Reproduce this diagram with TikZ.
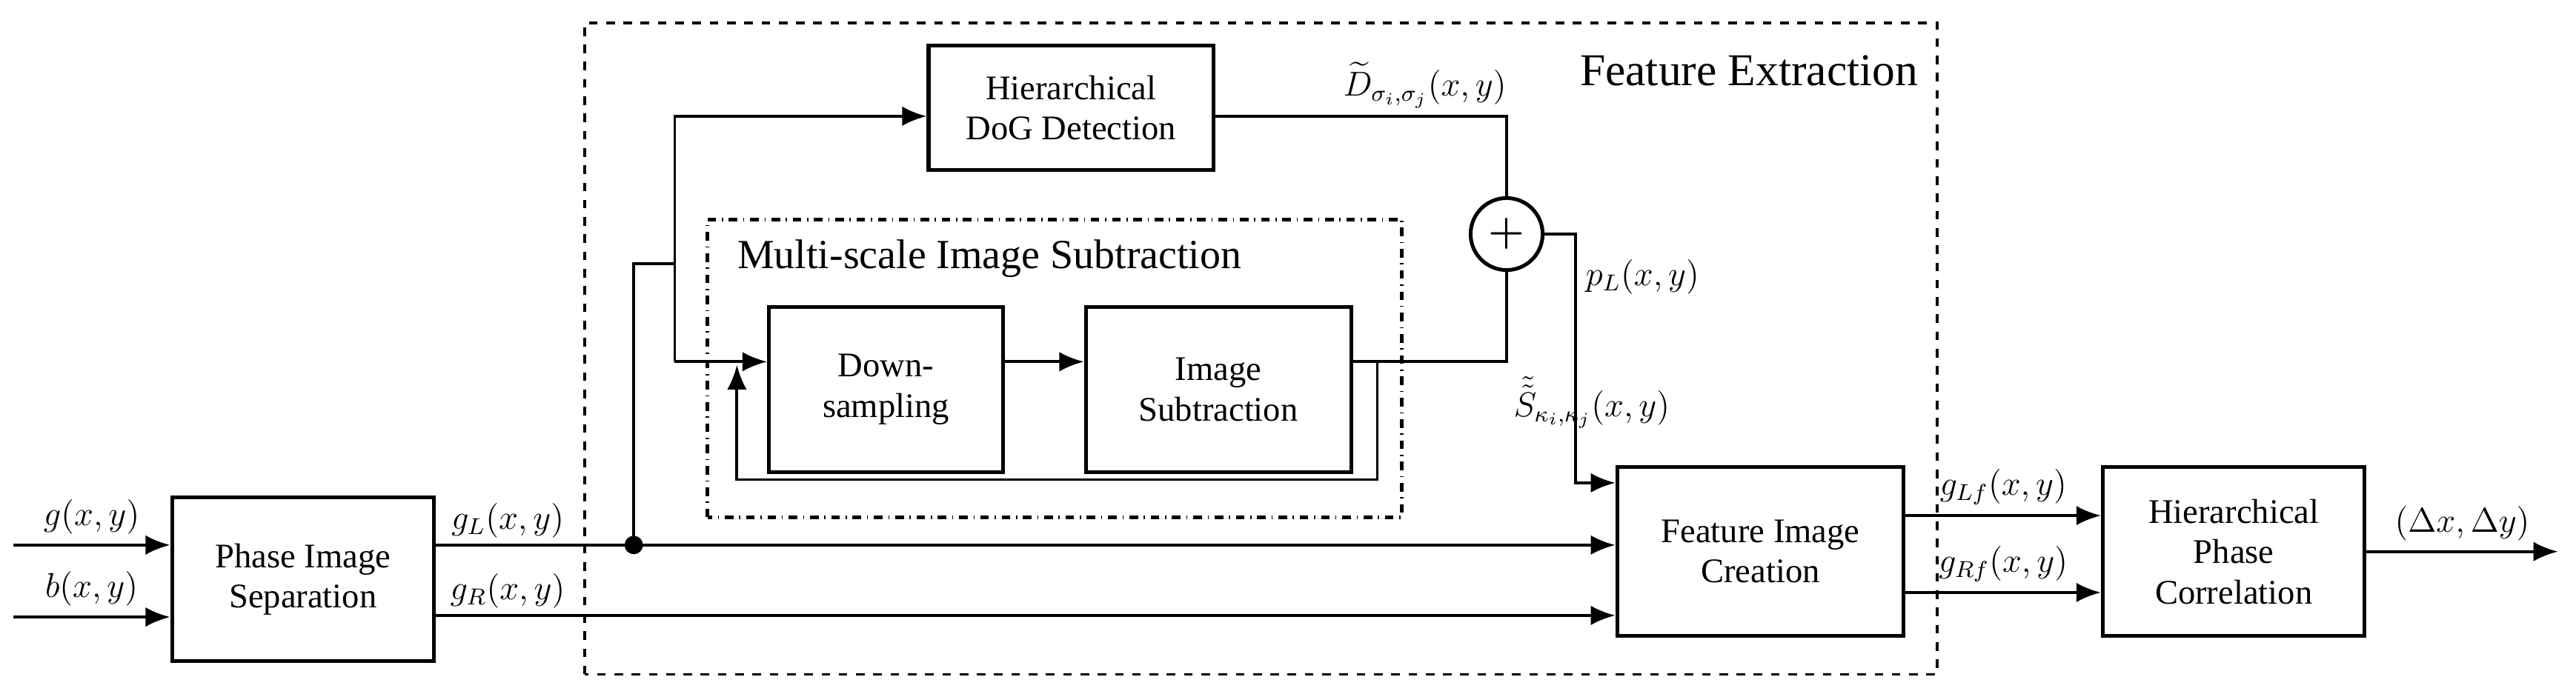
\documentclass[tikz,border=0pt]{standalone}
\usepackage{amsmath}
\usepackage{fontspec}
\setmainfont{Liberation Serif}
\usepackage{tikz}
\usetikzlibrary{positioning, arrows.meta, calc}
\tikzset{block/.style={rectangle,draw,line width=1.3pt,align=center,font=\large},
	summe/.style={circle,draw,line width=1.3pt,minimum size=8.8mm,inner sep=0},
	signal/.style={line width=1pt,-{Latex[length=3mm,width=2.4mm]}},
	leitung/.style={line width=1pt},
	marke/.style={font=\large},
	helper/.style={inner sep=0} }
\begin{document}
\begin{tikzpicture}[x=0.02cm,y=0.02cm]
  \useasboundingbox (0,0) rectangle (1573,424);

  % Rahmen
  \draw[dashed, line width=1pt] (357,12) rectangle (1183,410);
  \node[font=\Large, scale=1.1] at (1068,381) {Feature Extraction};
  \draw[dash dot, line width=1.3pt] (432,108) rectangle (856,290);
  \node[font=\Large, anchor=west, inner sep=0] at (450,266) {Multi-scale Image Subtraction};

  \node (pis) [block, minimum width=3.2cm, minimum height=2cm] at (185,70) {Phase Image\\Separation};
  \node (dog) [block, minimum width=3.48cm, minimum height=1.52cm] at (654,358) {Hierarchical\\DoG Detection};
  \node (down) [block, minimum width=2.86cm, minimum height=2.02cm] at (541,186) {Down-\\sampling};
  \node (sub) [block, minimum width=3.24cm, minimum height=2.02cm] at (744,186) {Image\\Subtraction};
  \node (plus) [summe] at (920,281) {\Large$\boldsymbol{+}$};
  \node (fic) [block, minimum width=3.5cm, minimum height=2.06cm] at (1075,87) {Feature Image\\Creation};
  \node (hpc) [block, minimum width=3.2cm, minimum height=2.06cm] at (1364,87) {Hierarchical\\Phase\\Correlation};

  \coordinate (gin) at (8,91);
  \coordinate (bin) at (8,47);
  \coordinate (out) at (1562,87);
  \coordinate (split) at (387,91);
  \coordinate (fb) at (450,201);

  % Eingaenge
  \draw[signal] (gin) -- (gin -| pis.west) node[midway, above, marke] {$g(x,y)$};
  \draw[signal] (bin) -- (bin -| pis.west) node[midway, above, marke] {$b(x,y)$};
  \draw[signal] (split -| pis.east) -- (split -| fic.west);
  \node[marke] at (310,106) {$g_L(x,y)$};
  \draw[signal] (pis.east |- 0,48) -- (fic.west |- 0,48);
  \node[marke] at (310,63) {$g_R(x,y)$};
  \fill (split) circle (3.2pt);

  % Verzweigung
  \draw[leitung] (split) -- (387,263) -- (412,263);
  \draw[signal] (412,203) |- (dog.west |- 0,353);
  \draw[signal] (412,203) -- (down.west |- 0,203);
  \draw[signal] (down.east |- 0,203) -- (sub.west |- 0,203);
  \draw[signal] (sub.east |- 0,203) -- (841,203) -- (841,131) -| (fb);
  \draw[leitung] (sub.east |- 0,203) -| (plus.south);
  \draw[leitung] (dog.east |- 0,353) -| (plus.north);
  \draw[signal] (plus.east) -- (962,281) |- (fic.west |- 0,129);
  \node[marke] at (870,372) {$\widetilde{D}_{\sigma_i,\sigma_j}(x,y)$};
  \node[marke] at (972,178) {$\tilde{\tilde{S}}_{\kappa_i,\kappa_j}(x,y)$};
  \node[marke] at (1003,255) {$p_L(x,y)$};

  % Ausgaenge
  \draw[signal] (fic.east |- 0,109) -- (hpc.west |- 0,109) node[midway, above, marke] {$g_{Lf}(x,y)$};
  \draw[signal] (fic.east |- 0,62) -- (hpc.west |- 0,62) node[midway, above, marke] {$g_{Rf}(x,y)$};
  \draw[signal] (hpc.east |- out) -- (out) node[midway, above, marke] {$(\Delta x,\Delta y)$};
\end{tikzpicture}
\end{document}
